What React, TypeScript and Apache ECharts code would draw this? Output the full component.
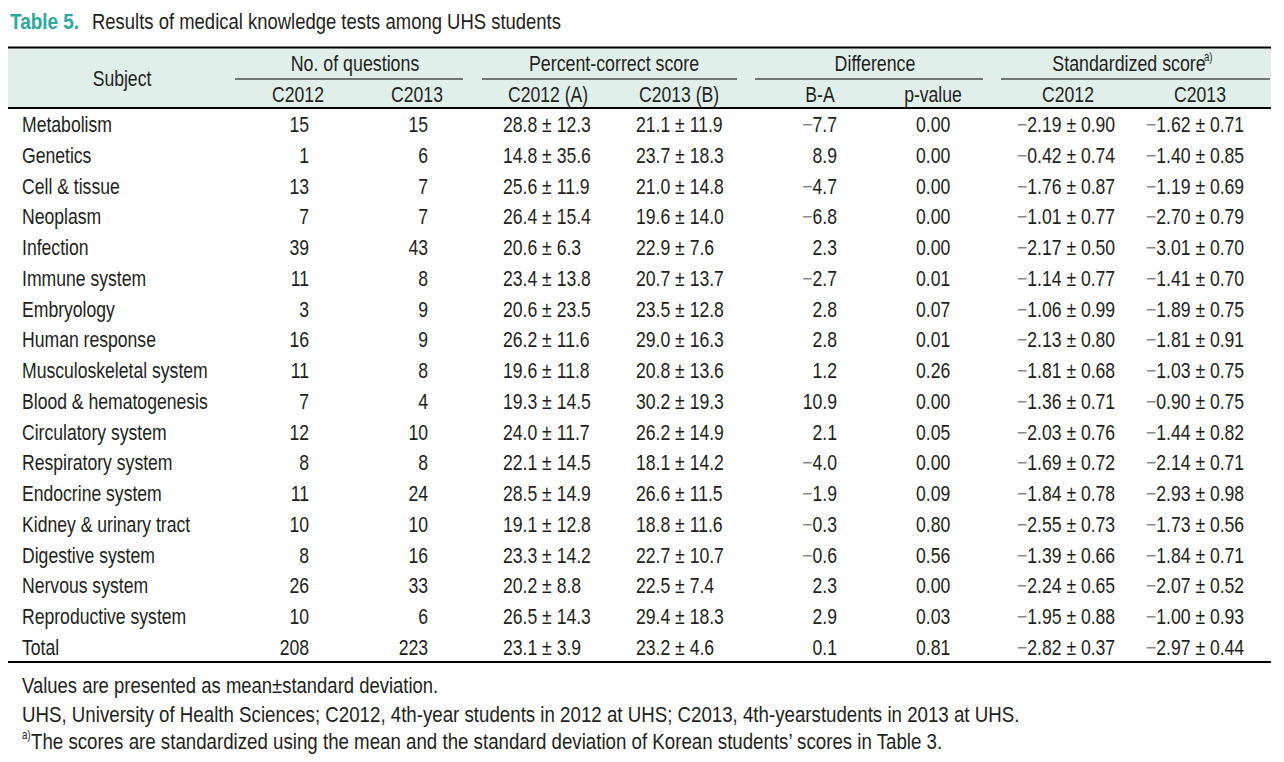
import React, { useEffect, useRef } from "react";
import * as echarts from "echarts";

const subjects = ["Metabolism","Genetics","Cell & tissue","Neoplasm","Infection","Immune system","Embryology","Human response","Musculoskeletal system","Blood & hematogenesis","Circulatory system","Respiratory system","Endocrine system","Kidney & urinary tract","Digestive system","Nervous system","Reproductive system","Total"];
const nq2012 = [15,1,13,7,39,11,3,16,11,7,12,8,11,10,8,26,10,208];
const nq2013 = [15,6,7,7,43,8,9,9,8,4,10,8,24,10,16,33,6,223];
const pctAMean = [28.8,14.8,25.6,26.4,20.6,23.4,20.6,26.2,19.6,19.3,24.0,22.1,28.5,19.1,23.3,20.2,26.5,23.1];
const pctASd = [12.3,35.6,11.9,15.4,6.3,13.8,23.5,11.6,11.8,14.5,11.7,14.5,14.9,12.8,14.2,8.8,14.3,3.9];
const pctBMean = [21.1,23.7,21.0,19.6,22.9,20.7,23.5,29.0,20.8,30.2,26.2,18.1,26.6,18.8,22.7,22.5,29.4,23.2];
const pctBSd = [11.9,18.3,14.8,14.0,7.6,13.7,12.8,16.3,13.6,19.3,14.9,14.2,11.5,11.6,10.7,7.4,18.3,4.6];
const diffBA = [-7.7,8.9,-4.7,-6.8,2.3,-2.7,2.8,2.8,1.2,10.9,2.1,-4.0,-1.9,-0.3,-0.6,2.3,2.9,0.1];
const pValues = [0.00,0.00,0.00,0.00,0.00,0.01,0.07,0.01,0.26,0.00,0.05,0.00,0.09,0.80,0.56,0.00,0.03,0.81];
const std2012Mean = [-2.19,-0.42,-1.76,-1.01,-2.17,-1.14,-1.06,-2.13,-1.81,-1.36,-2.03,-1.69,-1.84,-2.55,-1.39,-2.24,-1.95,-2.82];
const std2012Sd = [0.90,0.74,0.87,0.77,0.50,0.77,0.99,0.80,0.68,0.71,0.76,0.72,0.78,0.73,0.66,0.65,0.88,0.37];
const std2013Mean = [-1.62,-1.40,-1.19,-2.70,-3.01,-1.41,-1.89,-1.81,-1.03,-0.90,-1.44,-2.14,-2.93,-1.73,-1.84,-2.07,-1.00,-2.97];
const std2013Sd = [0.71,0.85,0.69,0.79,0.70,0.70,0.75,0.91,0.75,0.75,0.82,0.71,0.98,0.56,0.71,0.52,0.93,0.44];

const groupHeaders = ["No. of questions", "Percent-correct score", "Difference", "Standardized score"];
const subHeaders = ["C2012", "C2013", "C2012 (A)", "C2013 (B)", "B-A", "p-value", "C2012", "C2013"];
const titleLabel = "Table 5.";
const titleText = "Results of medical knowledge tests among UHS students";
const footnotes = [
  "Values are presented as mean\u00b1standard deviation.",
  "UHS, University of Health Sciences; C2012, 4th-year students in 2012 at UHS; C2013, 4th-yearstudents in 2013 at UHS.",
  "The scores are standardized using the mean and the standard deviation of Korean students\u2019 scores in Table 3.",
];

const FONT = "'Liberation Sans', Arial, sans-serif";
const SX = 0.8;
const INK = "#231f20";
const MINUS_GRAY = "#8a8a8a";
const PM = " \u00b1 ";

function fmt(v: number, d: number): string {
  const s = Math.abs(v).toFixed(d);
  return v < 0 ? "{m|\u2212}" + s : s;
}

function txt(x: number, y: number, text: string, align: string, extra: any = {}) {
  const size = extra.fontSize ?? 22;
  return {
    type: "text",
    x,
    y,
    scaleX: extra.scaleX ?? SX,
    silent: true,
    style: {
      text,
      fill: extra.fill ?? INK,
      fontFamily: FONT,
      fontSize: size,
      fontWeight: extra.fontWeight ?? "normal",
      textAlign: align,
      textVerticalAlign: "middle",
      align,
      verticalAlign: "middle",
      rich: {
        m: { fill: MINUS_GRAY, fontFamily: FONT, fontSize: size },
      },
    },
  };
}

function line(x1: number, y1: number, x2: number, y2: number, w: number) {
  return {
    type: "line",
    silent: true,
    shape: { x1, y1, x2, y2 },
    style: { stroke: "#000", lineWidth: w },
  };
}

export default function App() {
  const ref = useRef<HTMLDivElement>(null);
  useEffect(() => {
    if (!ref.current) return;
    const chart = echarts.init(ref.current, null, { renderer: "svg" });
    const els: any[] = [];

    // Title
    els.push(txt(10, 21, titleLabel, "left", { fill: "#2aaa9c", fontWeight: "bold", fontSize: 22, scaleX: 0.86 }));
    els.push(txt(92, 21, titleText, "left", { scaleX: 0.84 }));

    // Header
    const L = 8, R = 1271;
    els.push({ type: "rect", silent: true, shape: { x: L, y: 47, width: R - L, height: 61 }, style: { fill: "#e1efeb" } });
    els.push(line(L, 47.5, R, 47.5, 2));
    els.push(line(L, 108, R, 108, 2));

    els.push(txt(122, 78, "Subject", "center"));
    const groupCenters = [355, 614, 875, 1129];
    const groupSpans = [[235, 463], [482, 737], [755, 983], [1001, 1270]];
    groupHeaders.forEach((g, i) => {
      els.push(txt(groupCenters[i], 63, g, "center", { scaleX: 0.81 }));
      els.push(line(groupSpans[i][0], 79, groupSpans[i][1], 79, 1.2));
    });
    els.push(txt(1204, 57, "a)", "left", { fontSize: 12 }));
    const subCenters = [298, 417, 548, 679, 820, 933, 1068, 1200];
    subHeaders.forEach((s, i) => {
      els.push(txt(subCenters[i], 94, s, "center"));
    });

    // Rows
    const y0 = 124.5, dy = 30.75;
    subjects.forEach((s, i) => {
      const y = y0 + i * dy;
      els.push(txt(22, y, s, "left", { scaleX: 0.8 }));
      els.push(txt(309, y, String(nq2012[i]), "right"));
      els.push(txt(428, y, String(nq2013[i]), "right"));
      els.push(txt(503, y, fmt(pctAMean[i], 1) + PM + fmt(pctASd[i], 1), "left"));
      els.push(txt(636, y, fmt(pctBMean[i], 1) + PM + fmt(pctBSd[i], 1), "left"));
      els.push(txt(837, y, fmt(diffBA[i], 1), "right"));
      els.push(txt(916, y, pValues[i].toFixed(2), "left"));
      els.push(txt(1017, y, fmt(std2012Mean[i], 2) + PM + fmt(std2012Sd[i], 2), "left"));
      els.push(txt(1146, y, fmt(std2013Mean[i], 2) + PM + fmt(std2013Sd[i], 2), "left"));
    });
    els.push(line(L, 662, R, 662, 2));

    // Footnotes
    els.push(txt(22, 685, footnotes[0], "left", { scaleX: 0.84 }));
    els.push(txt(22, 714, footnotes[1], "left", { scaleX: 0.85 }));
    els.push(txt(22, 735, "a)", "left", { fontSize: 12 }));
    els.push(txt(31, 741, footnotes[2], "left", { scaleX: 0.85 }));

    chart.setOption({
      animation: false,
      backgroundColor: "#ffffff",
      graphic: { elements: els },
    });
    return () => chart.dispose();
  }, []);
  return (
    <div
      ref={ref}
      style={{ position: "fixed", left: 0, top: 0, width: 1284, height: 762, background: "#fff" }}
    />
  );
}
